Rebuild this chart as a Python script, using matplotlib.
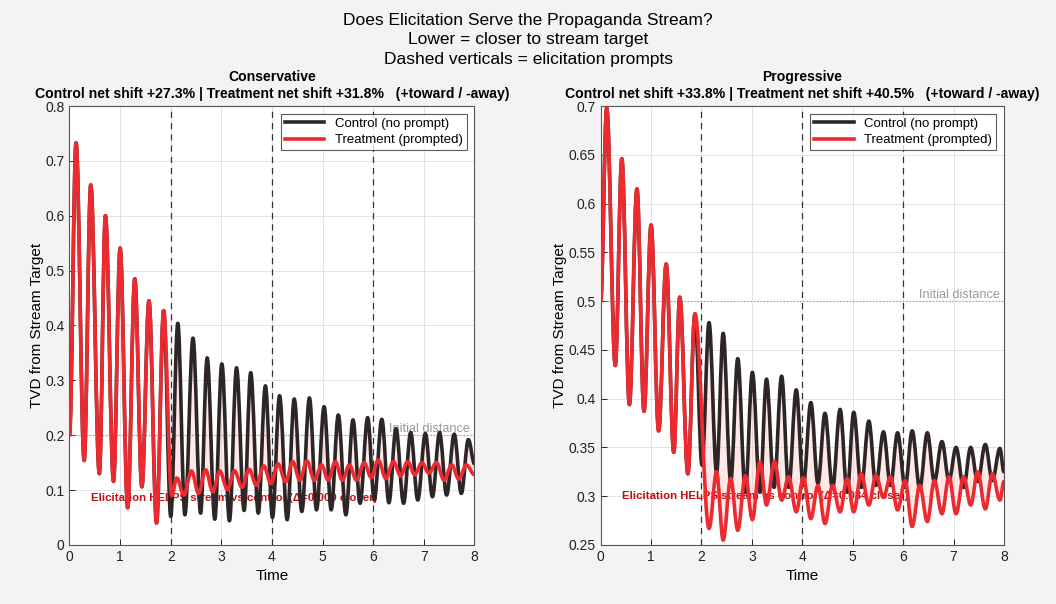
import matplotlib.pyplot as plt
from matplotlib.path import Path
from matplotlib.patches import PathPatch
from matplotlib.lines import Line2D
from matplotlib.ticker import FormatStrFormatter, MultipleLocator

plt.rcParams['font.family'] = ['Liberation Sans', 'DejaVu Sans']

# Extrema (time, TVD). Before t=2 both arms coincide.
cons_shared_t = [0.00, 0.13, 0.29, 0.42, 0.59, 0.71, 0.87, 1.00, 1.15, 1.29, 1.43, 1.57, 1.72, 1.86]
cons_shared_v = [0.200, 0.733, 0.154, 0.656, 0.130, 0.600, 0.116, 0.541, 0.068, 0.485, 0.106, 0.445, 0.040, 0.427]

cons_ctrl_t = [2.00, 2.14, 2.28, 2.44, 2.59, 2.72, 2.87, 3.01, 3.16, 3.30, 3.45, 3.58, 3.73, 3.87,
               4.01, 4.15, 4.30, 4.44, 4.59, 4.74, 4.88, 5.03, 5.17, 5.31, 5.46, 5.60, 5.74, 5.89,
               6.02, 6.17, 6.31, 6.45, 6.60, 6.74, 6.88, 7.03, 7.17, 7.31, 7.45, 7.60, 7.74, 7.88, 8.00]
cons_ctrl_v = [0.052, 0.404, 0.055, 0.377, 0.058, 0.341, 0.047, 0.330, 0.044, 0.323, 0.063, 0.314, 0.058, 0.290,
               0.050, 0.272, 0.046, 0.266, 0.061, 0.268, 0.064, 0.252, 0.064, 0.237, 0.055, 0.228, 0.076, 0.232,
               0.082, 0.229, 0.077, 0.212, 0.076, 0.205, 0.082, 0.203, 0.088, 0.205, 0.091, 0.202, 0.094, 0.192, 0.148]

cons_treat_t = [2.02, 2.12, 2.26, 2.41, 2.55, 2.69, 2.83, 2.97, 3.12, 3.26, 3.41, 3.55, 3.69, 3.84,
                3.98, 4.12, 4.27, 4.41, 4.55, 4.69, 4.84, 4.98, 5.11, 5.25, 5.39, 5.53, 5.67, 5.82,
                5.96, 6.10, 6.25, 6.40, 6.54, 6.68, 6.82, 6.96, 7.10, 7.25, 7.40, 7.55, 7.69, 7.84, 8.00]
cons_treat_v = [0.090, 0.122, 0.091, 0.135, 0.094, 0.137, 0.097, 0.135, 0.101, 0.135, 0.105, 0.138, 0.109, 0.144,
                0.112, 0.148, 0.115, 0.152, 0.118, 0.153, 0.118, 0.146, 0.118, 0.152, 0.118, 0.146, 0.118, 0.150,
                0.123, 0.155, 0.121, 0.152, 0.126, 0.152, 0.128, 0.150, 0.131, 0.150, 0.118, 0.146, 0.120, 0.146, 0.128]

prog_shared_t = [0.00, 0.12, 0.29, 0.42, 0.57, 0.72, 0.86, 1.00, 1.15, 1.30, 1.45, 1.57, 1.73, 1.87]
prog_shared_v = [0.500, 0.698, 0.434, 0.646, 0.394, 0.615, 0.387, 0.578, 0.367, 0.538, 0.345, 0.504, 0.323, 0.487]

prog_ctrl_t = [2.01, 2.15, 2.30, 2.43, 2.58, 2.72, 2.87, 3.01, 3.16, 3.29, 3.44, 3.59, 3.73, 3.88,
               4.02, 4.17, 4.31, 4.45, 4.60, 4.75, 4.89, 5.02, 5.17, 5.32, 5.46, 5.61, 5.75, 5.89,
               6.04, 6.18, 6.33, 6.48, 6.62, 6.77, 6.91, 7.05, 7.20, 7.34, 7.48, 7.63, 7.77, 7.92, 8.00]
prog_ctrl_v = [0.332, 0.478, 0.324, 0.467, 0.315, 0.441, 0.304, 0.427, 0.304, 0.420, 0.309, 0.423, 0.309, 0.409,
               0.311, 0.396, 0.313, 0.385, 0.308, 0.389, 0.304, 0.386, 0.309, 0.377, 0.311, 0.366, 0.311, 0.365,
               0.309, 0.367, 0.308, 0.365, 0.315, 0.356, 0.316, 0.350, 0.309, 0.350, 0.315, 0.353, 0.316, 0.349, 0.325]

prog_treat_t = [2.15, 2.30, 2.43, 2.58, 2.72, 2.87, 3.01, 3.16, 3.29, 3.45, 3.59, 3.73, 3.88,
                4.02, 4.17, 4.31, 4.45, 4.60, 4.75, 4.89, 5.02, 5.17, 5.32, 5.46, 5.61, 5.75, 5.89,
                6.04, 6.18, 6.33, 6.48, 6.62, 6.77, 6.91, 7.05, 7.20, 7.34, 7.48, 7.63, 7.77, 7.92, 8.00]
prog_treat_v = [0.267, 0.325, 0.255, 0.318, 0.265, 0.321, 0.276, 0.335, 0.291, 0.336, 0.296, 0.320, 0.284,
                0.319, 0.277, 0.311, 0.272, 0.311, 0.284, 0.318, 0.284, 0.323, 0.291, 0.321, 0.299, 0.320, 0.286,
                0.316, 0.269, 0.311, 0.274, 0.316, 0.282, 0.320, 0.282, 0.320, 0.291, 0.325, 0.287, 0.323, 0.296, 0.315]

panels = ["Conservative", "Progressive"]
ctrl_shift = [27.3, 33.8]
treat_shift = [31.8, 40.5]
initial_dist = [0.2, 0.5]
delta_closer = [0.009, 0.034]
prompt_times = [2, 4, 6]

CTRL_COLOR = "#2e2626"
TREAT_COLOR = "#ec2a2f"
NOTE_COLOR = "#c40d12"


def wave_verts(t, v):
    """Smooth half-cosine-like Bezier pieces joining successive extrema."""
    verts = [(t[0], v[0])]
    for i in range(1, len(t)):
        dt = t[i] - t[i - 1]
        verts += [(t[i - 1] + 0.36 * dt, v[i - 1]), (t[i] - 0.36 * dt, v[i]), (t[i], v[i])]
    return verts


def wave_path(t, v):
    verts = wave_verts(t, v)
    codes = [Path.MOVETO] + [Path.CURVE4] * (len(verts) - 1)
    return Path(verts, codes)


def band_path(t0, v0, ta, va, tb, vb):
    """Closed region between two branches that leave the common point (t0, v0)."""
    a = wave_verts([t0] + ta, [v0] + va)
    b = wave_verts([t0] + tb, [v0] + vb)
    verts = a + [b[-1]] + b[::-1][1:] + [a[0]]
    codes = ([Path.MOVETO] + [Path.CURVE4] * (len(a) - 1) + [Path.LINETO]
             + [Path.CURVE4] * (len(b) - 1) + [Path.CLOSEPOLY])
    return Path(verts, codes)


fig = plt.figure(figsize=(10.56, 6.04), dpi=100, facecolor="#f4f2f2")
axes = [fig.add_axes([0.0658, 0.0977, 0.3835, 0.7268]),
        fig.add_axes([0.5688, 0.0977, 0.3819, 0.7268])]

data = [
    (cons_shared_t, cons_shared_v, cons_ctrl_t, cons_ctrl_v, cons_treat_t, cons_treat_v),
    (prog_shared_t, prog_shared_v, prog_ctrl_t, prog_ctrl_v, prog_treat_t, prog_treat_v),
]
ylims = [(0, 0.8), (0.25, 0.7)]
ysteps = [0.1, 0.05]
note_y = [0.085, 0.300]

for k, ax in enumerate(axes):
    st, sv, ct, cv, tt, tv = data[k]
    ax.set_facecolor("white")

    # pink band between arms
    ax.add_patch(PathPatch(band_path(st[-1], sv[-1], ct, cv, tt, tv),
                           facecolor="#ffb3b3", alpha=0.3, edgecolor="none", zorder=1))

    ax.add_patch(PathPatch(wave_path(st + ct, sv + cv), fill=False, edgecolor=CTRL_COLOR,
                           lw=2.6, zorder=3, capstyle="round", joinstyle="round"))
    ax.add_patch(PathPatch(wave_path(st + tt, sv + tv), fill=False, edgecolor=TREAT_COLOR,
                           lw=2.6, zorder=4, capstyle="round", joinstyle="round"))

    for pt in prompt_times:
        ax.axvline(pt, color="#333333", ls=(0, (5, 4)), lw=0.9, zorder=2)

    ax.axhline(initial_dist[k], color="#a0a0a0", ls=":", lw=0.9, zorder=2)
    ax.text(7.92, initial_dist[k], "Initial distance", color="#999999", fontsize=9.2,
            ha="right", va="bottom", zorder=2.5)

    # note sits under the curves, as in the original
    ax.text(3.26, note_y[k],
            f"Elicitation HELPS stream vs control (\u0394={delta_closer[k]:.3f} closer)",
            color=NOTE_COLOR, fontsize=8.2, fontweight="bold", ha="center", va="center", zorder=2.5)

    ax.set_xlim(0, 8)
    ax.set_ylim(*ylims[k])
    ax.xaxis.set_major_locator(MultipleLocator(1))
    ax.yaxis.set_major_locator(MultipleLocator(ysteps[k]))
    ax.yaxis.set_major_formatter(FormatStrFormatter("%g"))
    ax.tick_params(direction="in", length=4, width=0.7, labelsize=10, colors="#222222",
                   top=False, right=False)
    ax.grid(True, color="#e3e3e3", lw=0.7, zorder=0)
    ax.set_axisbelow(True)
    for sp in ax.spines.values():
        sp.set_color("#555555")
        sp.set_linewidth(0.8)

    ax.set_xlabel("Time", fontsize=11, labelpad=4)
    ax.set_ylabel("TVD from Stream Target", fontsize=11, labelpad=1)
    ax.set_title(f"{panels[k]}\nControl net shift +{ctrl_shift[k]}% | "
                 f"Treatment net shift +{treat_shift[k]}%   (+toward / -away)",
                 fontsize=10.1, fontweight="bold", pad=5.5, linespacing=1.35)

    handles = [Line2D([], [], color=CTRL_COLOR, lw=2.6), Line2D([], [], color=TREAT_COLOR, lw=2.6)]
    leg = ax.legend(handles, ["Control (no prompt)", "Treatment (prompted)"], loc="upper right",
                    fontsize=9.5, frameon=True, fancybox=False, edgecolor="#333333",
                    handlelength=3.0, borderaxespad=0.6, borderpad=0.3, labelspacing=0.3)
    leg.get_frame().set_linewidth(0.8)

fig.suptitle("Does Elicitation Serve the Propaganda Stream?\nLower = closer to stream target\n"
             "Dashed verticals = elicitation prompts", fontsize=12.5, y=0.979, linespacing=1.4)

fig.savefig("out.png", dpi=100, facecolor=fig.get_facecolor())
